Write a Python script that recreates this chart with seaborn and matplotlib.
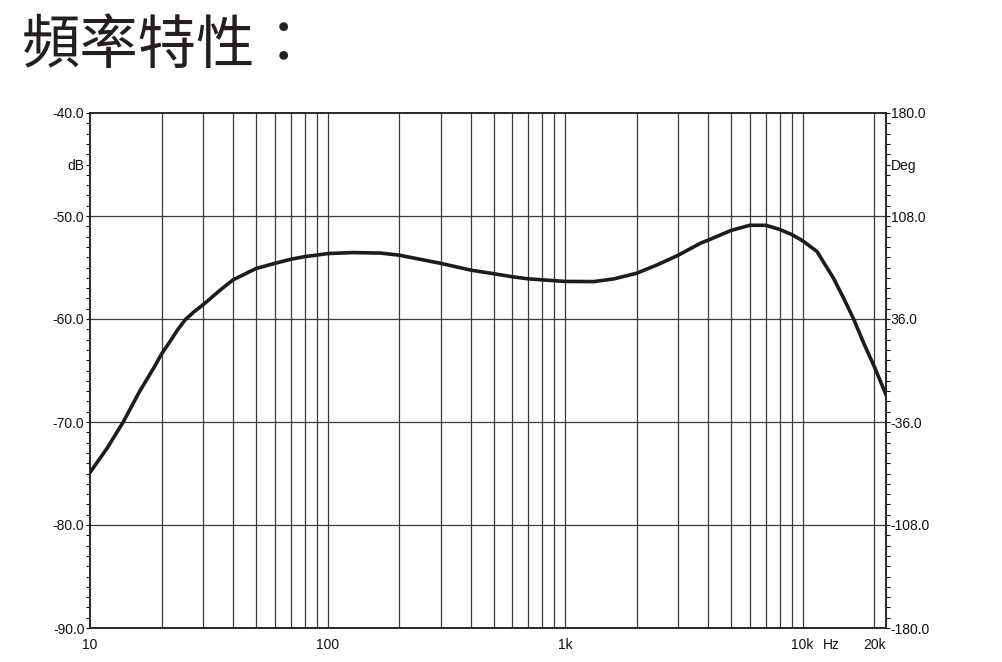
import matplotlib
matplotlib.use("Agg")
import matplotlib.pyplot as plt
import numpy as np
import pandas as pd
import seaborn as sns

# frequency response (Hz, dB)
freq_hz = [10, 11.8, 13.8, 16.2, 18.5, 20, 21.7, 23.3, 25.1, 27.4, 30, 35.3, 40, 50,
           60, 70, 80, 90, 100, 127, 167, 200, 300, 400, 500, 600, 700, 800, 1000,
           1320, 1610, 2000, 2440, 3000, 3710, 4000, 5000, 6000, 7000, 8000, 9000,
           10000, 11500, 13500, 14900, 16400, 18100, 20050, 22500]
level_db = [-74.9, -72.55, -70.0, -67.0, -64.8, -63.4, -62.2, -61.1, -60.1, -59.3,
            -58.6, -57.2, -56.2, -55.1, -54.6, -54.2, -53.95, -53.8, -53.65, -53.55,
            -53.6, -53.8, -54.6, -55.25, -55.6, -55.9, -56.1, -56.2, -56.35, -56.37,
            -56.1, -55.56, -54.75, -53.8, -52.65, -52.35, -51.4, -50.9, -50.9, -51.3,
            -51.8, -52.4, -53.45, -56.05, -58.0, -60.0, -62.36, -64.63, -67.4]

grid_freqs = [20, 30, 40, 50, 60, 70, 80, 90, 100, 200, 300, 400, 500, 600, 700,
              800, 900, 1000, 2000, 3000, 4000, 5000, 6000, 7000, 8000, 9000,
              10000, 20000]
x_tick_pos = [10, 100, 1000, 10000, 13200, 20000]
x_tick_labels = ["10", "100", "1k", "10k", "Hz", "20k"]
db_ticks = [-90, -80, -70, -60, -50, -45, -40]
db_labels = ["-90.0", "-80.0", "-70.0", "-60.0", "-50.0", "dB", "-40.0"]
deg_ticks = [-180, -108, -36, 36, 108, 144, 180]
deg_labels = ["-180.0", "-108.0", "-36.0", "36.0", "108.0", "Deg", "180.0"]

sns.set_style("white")
plt.rcParams["font.family"] = ["Liberation Sans", "DejaVu Sans"]

df = pd.DataFrame({"freq": freq_hz, "db": level_db})

fig = plt.figure(figsize=(10.02, 6.62), dpi=100)
ax = fig.add_axes([90 / 1002, 1 - 628 / 662, 796 / 1002, 515 / 662])

ax.set_xscale("log")
ax.set_xlim(10, 22450)
ax.set_ylim(-90, -40)

for f in grid_freqs:
    ax.axvline(f, color="#3a3a3a", lw=0.9, zorder=1)
for y in [-80, -70, -60, -50]:
    ax.axhline(y, color="#3a3a3a", lw=0.9, zorder=1)

sns.lineplot(data=df, x="freq", y="db", ax=ax, color="#1e1b1c", lw=2.6,
             sort=False, estimator=None, zorder=3)
ax.set_xlabel("")
ax.set_ylabel("")

ax.set_xticks(x_tick_pos)
ax.set_xticklabels(x_tick_labels)
ax.xaxis.set_minor_locator(matplotlib.ticker.NullLocator())
ax.tick_params(axis="x", length=0, pad=7, labelsize=10, colors="#111111")

ax.set_yticks(db_ticks)
ax.set_yticklabels(db_labels)
ax.set_yticks(np.arange(-90, -39, 1), minor=True)
ax.tick_params(axis="y", which="both", direction="out", length=3, width=0.8,
               pad=1, labelsize=10, colors="#111111", left=True)

for s in ax.spines.values():
    s.set_color("#222222")
    s.set_linewidth(1.1)

ax2 = ax.twinx()
ax2.set_ylim(-180, 180)
ax2.set_yticks(deg_ticks)
ax2.set_yticklabels(deg_labels)
ax2.set_yticks(np.linspace(-180, 180, 51), minor=True)
ax2.tick_params(axis="y", which="both", direction="out", length=3, width=0.8,
                pad=0.5, labelsize=10, colors="#111111", right=True)
for s in ax2.spines.values():
    s.set_color("#222222")
    s.set_linewidth(1.1)

fig.text(22 / 1002, 1 - 16 / 662, "頻率特性：", fontsize=42, va="top", ha="left",
         family=["Noto Sans CJK TC", "DejaVu Sans"], fontweight="medium",
         color="#231f20")

fig.savefig("out.png", dpi=100)
